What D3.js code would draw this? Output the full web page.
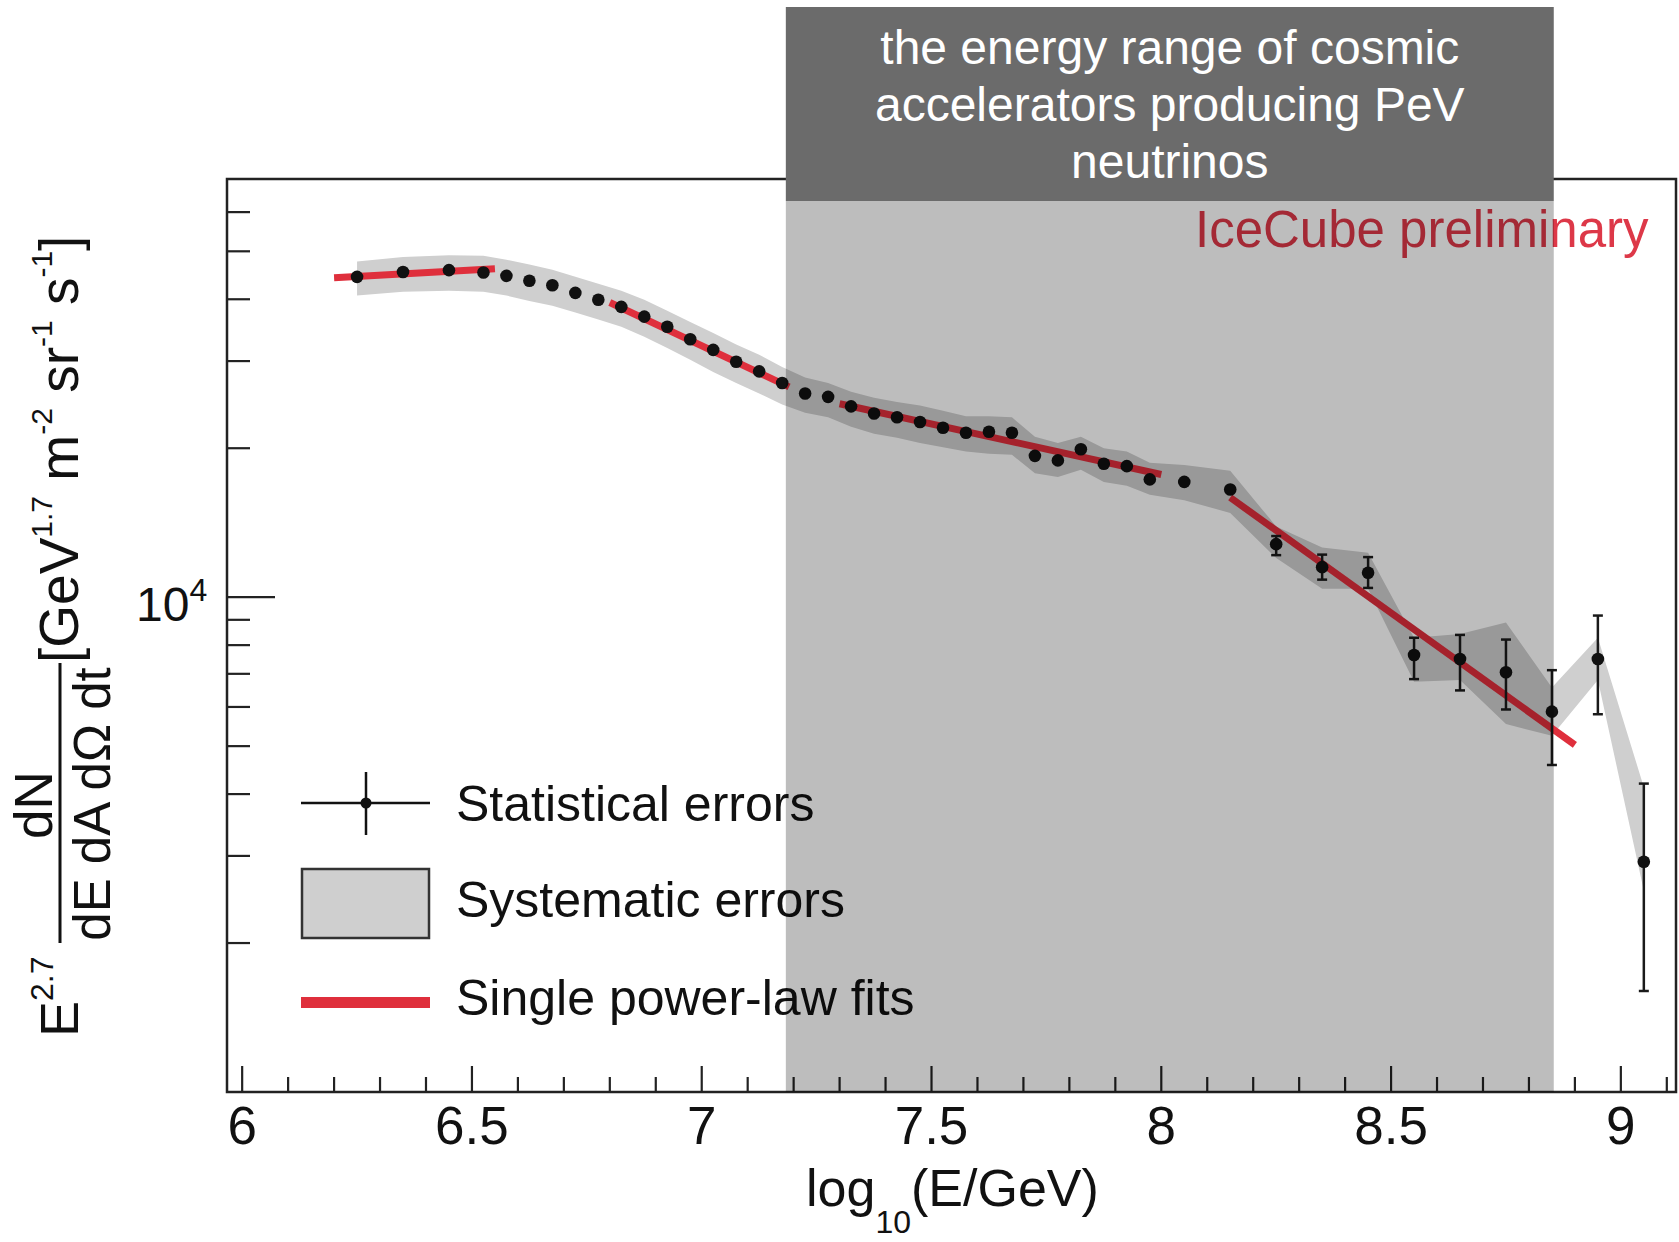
<!DOCTYPE html>
<html><head><meta charset="utf-8">
<script src="https://cdn.jsdelivr.net/npm/d3@7"></script>
<style>
body{margin:0;background:#fff}
svg{display:block}
text{font-family:"Liberation Sans",Arial,Helvetica,sans-serif}
</style>
</head><body>
<svg id="c" width="1679" height="1242"></svg>
<script>
// ---- data ----
const energies = [6.25,6.35,6.45,6.525,6.575,6.625,6.675,6.725,6.775,6.825,6.875,6.925,6.975,7.025,7.075,7.125,7.175,7.225,7.275,7.325,7.375,7.425,7.475,7.525,7.575,7.625,7.675,7.725,7.775,7.825,7.875,7.925,7.975,8.05,8.15,8.25,8.35,8.45,8.55,8.65,8.75,8.85,8.95,9.05];
const flux = [44400,45400,45800,45300,44600,43600,42700,41200,39900,38600,36900,35200,33200,31600,29900,28600,27100,25800,25400,24300,23500,23100,22600,22000,21500,21600,21500,19300,18900,19900,18600,18400,17300,17100,16500,12800,11500,11200,7640,7500,7050,5870,7500,2920];
const sysHigh = [47700,48700,49100,49000,48100,47000,45900,44400,43000,41600,39900,37900,36000,34200,32400,30900,29200,27800,27100,26000,25300,24800,24400,23800,23200,23200,23100,21100,20500,21100,20000,19700,18700,18500,18000,13900,12600,12300,8280,8430,8890,6570,8280,4130];
const sysLow = [40700,41400,41600,41400,40700,39700,38800,37600,36400,35200,33600,31900,30200,28500,27100,25800,24500,23600,23100,22100,21400,21000,20500,20100,19700,19500,19400,17800,17500,18100,17100,16800,16100,15700,14800,12000,10400,10400,6750,6800,5540,5250,6800,2550];
const statE = [8.25,8.35,8.45,8.55,8.65,8.75,8.85,8.95,9.05];
const statLow = [12160,10850,10440,6830,6480,5930,4580,5800,1600];
const statHigh = [13290,12190,12050,8280,8390,8210,7120,9180,4200];
const fitStartE = [6.20,6.80,7.30,8.15];
const fitEndE = [6.55,7.19,8.00,8.90];
const fitStartFlux = [44200,39400,24600,15900];
const fitEndFlux = [46100,26600,17700,5030];
const xMajorTicks = [6,6.5,7,7.5,8,8.5,9];
const xTickLabels = ["6","6.5","7","7.5","8","8.5","9"];
const yMinorTicks = [2000,3000,4000,5000,6000,7000,8000,9000,20000,30000,40000,50000,60000];
const yMajorTicks = [10000];
const regionE = [7.183, 8.854];
const headerLines = ["the energy range of cosmic","accelerators producing PeV","neutrinos"];
const legendLabels = ["Statistical errors","Systematic errors","Single power-law fits"];

// ---- layout ----
const L=227, R=1676, T=179, B=1092;
const x = d3.scaleLinear().domain([5.967, 9.12]).range([L, R]);
const y = d3.scaleLog().domain([1000, 70000]).range([B, T]);
const svg = d3.select("#c");
svg.append("rect").attr("width",1679).attr("height",1242).attr("fill","#fff");

const pts = energies.map((e,i)=>({e, v:flux[i], hi:sysHigh[i], lo:sysLow[i]}));

// systematic band
svg.append("path").datum(pts)
  .attr("d", d3.area().x(d=>x(d.e)).y0(d=>y(d.lo)).y1(d=>y(d.hi)))
  .attr("fill","#cfcfcf");

// fits
const fits = fitStartE.map((e,i)=>[[e,fitStartFlux[i]],[fitEndE[i],fitEndFlux[i]]]);
svg.append("g").selectAll("path").data(fits).join("path")
  .attr("d", d3.line().x(d=>x(d[0])).y(d=>y(d[1])))
  .attr("stroke","#df2f3c").attr("stroke-width",7).attr("fill","none");

// stat errors
const errs = statE.map((e,i)=>({e, lo:statLow[i], hi:statHigh[i]}));
const eg = svg.append("g").attr("stroke","#1a1a1a").attr("stroke-width",2.5);
eg.selectAll("line.v").data(errs).join("line").attr("class","v")
  .attr("x1",d=>x(d.e)).attr("x2",d=>x(d.e)).attr("y1",d=>y(d.lo)).attr("y2",d=>y(d.hi));
eg.selectAll("line.t").data(errs).join("line").attr("class","t")
  .attr("x1",d=>x(d.e)-5).attr("x2",d=>x(d.e)+5).attr("y1",d=>y(d.hi)).attr("y2",d=>y(d.hi));
eg.selectAll("line.b").data(errs).join("line").attr("class","b")
  .attr("x1",d=>x(d.e)-5).attr("x2",d=>x(d.e)+5).attr("y1",d=>y(d.lo)).attr("y2",d=>y(d.lo));

// points
svg.append("g").selectAll("circle").data(pts).join("circle")
  .attr("cx",d=>x(d.e)).attr("cy",d=>y(d.v)).attr("r",6.3).attr("fill","#111");

// legend
const lg = svg.append("g");
lg.append("line").attr("x1",301).attr("x2",430).attr("y1",803).attr("y2",803).attr("stroke","#111").attr("stroke-width",2.5);
lg.append("line").attr("x1",366).attr("x2",366).attr("y1",772).attr("y2",835).attr("stroke","#111").attr("stroke-width",2.5);
lg.append("circle").attr("cx",366).attr("cy",803).attr("r",5.5).attr("fill","#111");
lg.append("rect").attr("x",302).attr("y",869).attr("width",127).attr("height",69).attr("fill","#cfcfcf").attr("stroke","#333").attr("stroke-width",2.5);
lg.append("line").attr("x1",301).attr("x2",430).attr("y1",1002.5).attr("y2",1002.5).attr("stroke","#df2f3c").attr("stroke-width",11);
lg.selectAll("text").data(legendLabels).join("text")
  .attr("x",456).attr("y",(d,i)=>[821,917,1015][i]).attr("font-size",50).attr("fill","#111").text(d=>d);

// IceCube preliminary
svg.append("text").attr("x",1195).attr("y",247).attr("font-size",51).attr("fill","#dd3848").text("IceCube preliminary");

// frame
svg.append("rect").attr("x",L).attr("y",T).attr("width",R-L).attr("height",B-T)
  .attr("fill","none").attr("stroke","#222").attr("stroke-width",2.5);

// ticks
const xMinor = d3.range(60,92).map(v=>v/10);
const ag = svg.append("g").attr("stroke","#222").attr("stroke-width",2.2);
ag.selectAll("line.xm").data(xMinor).join("line").attr("class","xm")
  .attr("x1",d=>x(d)).attr("x2",d=>x(d)).attr("y1",B).attr("y2",d=>xMajorTicks.some(t=>Math.abs(t-d)<1e-6)?B-26:B-15);
ag.selectAll("line.ym").data(yMinorTicks).join("line").attr("class","ym")
  .attr("x1",L).attr("x2",L+23).attr("y1",d=>y(d)).attr("y2",d=>y(d));
ag.selectAll("line.yM").data(yMajorTicks).join("line").attr("class","yM")
  .attr("x1",L).attr("x2",L+48).attr("y1",d=>y(d)).attr("y2",d=>y(d));

svg.append("g").selectAll("text").data(xMajorTicks).join("text")
  .attr("x",d=>x(d)).attr("y",1144).attr("text-anchor","middle").attr("font-size",53).attr("fill","#111")
  .text((d,i)=>xTickLabels[i]);

// y tick label 10^4
const yl = svg.append("text").attr("x",136).attr("y",y(10000)+24).attr("font-size",48).attr("fill","#111");
yl.append("tspan").text("10");
yl.append("tspan").attr("font-size",32).attr("dy",-20).text("4");

// x title
const xt = svg.append("text").attr("x",806).attr("y",1206).attr("font-size",52).attr("fill","#111");
xt.append("tspan").text("log");
xt.append("tspan").attr("font-size",32).attr("dy",27).text("10");
xt.append("tspan").attr("dy",-27).text("(E/GeV)");

// y title
const e27 = svg.append("text").attr("transform","translate(78,1037) rotate(-90)").attr("font-size",54).attr("fill","#111");
e27.append("tspan").text("E");
e27.append("tspan").attr("font-size",32).attr("dy",-25).text("2.7");
svg.append("text").attr("transform","translate(52,805) rotate(-90)").attr("text-anchor","middle").attr("font-size",53).attr("fill","#111").text("dN");
svg.append("line").attr("x1",60).attr("x2",60).attr("y1",663).attr("y2",943).attr("stroke","#111").attr("stroke-width",3);
svg.append("text").attr("transform","translate(110,804) rotate(-90)").attr("text-anchor","middle").attr("font-size",51).attr("fill","#111").text("dE dA dΩ dt");
const un = svg.append("text").attr("transform","translate(78,663) rotate(-90)").attr("font-size",55).attr("fill","#111");
[["[GeV",0],["1.7",1],[" m",0],["-2",1],[" sr",0],["-1",1],[" s",0],["-1",1],["]",0]].forEach(([t,s],i,arr)=>{
  const prev = i>0?arr[i-1][1]:0;
  un.append("tspan").attr("font-size",s?30:55).attr("dy",(s-prev)*-26).text(t);
});

// energy range region overlay and header
const rx0 = x(regionE[0]), rx1 = x(regionE[1]);
svg.append("rect").attr("x",rx0).attr("y",201).attr("width",rx1-rx0).attr("height",B-201)
  .attr("fill","#000").attr("fill-opacity",0.26);
svg.append("rect").attr("x",rx0).attr("y",7).attr("width",rx1-rx0).attr("height",194).attr("fill","#6b6b6b");
svg.append("g").selectAll("text").data(headerLines).join("text")
  .attr("x",(rx0+rx1)/2).attr("y",(d,i)=>64+i*57).attr("text-anchor","middle")
  .attr("font-size",48).attr("fill","#fff").text(d=>d);
</script>
</body></html>
